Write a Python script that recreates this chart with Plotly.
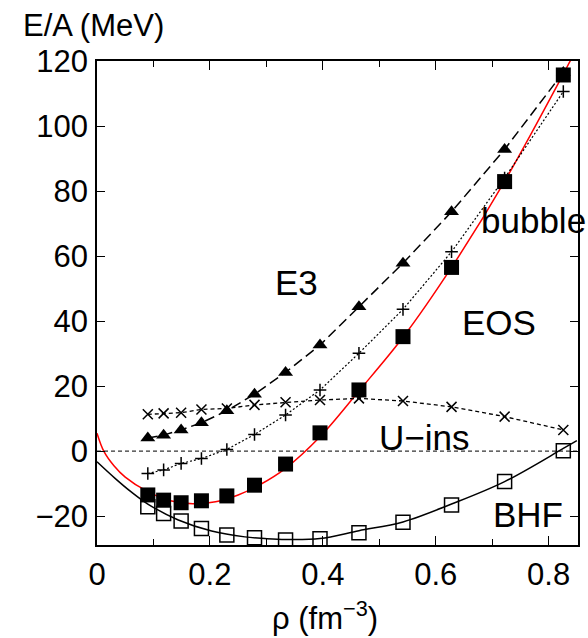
import plotly.graph_objects as go

# densities (fm^-3)
rho = [0.090, 0.118, 0.149, 0.185, 0.230, 0.279, 0.334, 0.395, 0.464, 0.542, 0.628, 0.722, 0.826]

# series values (MeV)
e3_tri = [4.0, 4.9, 6.5, 8.7, 12.4, 17.5, 24.2, 32.6, 44.4, 57.8, 73.6, 92.8, 116.5]
bubble_plus = [-6.9, -5.8, -3.8, -2.3, 0.5, 5.1, 11.1, 18.8, 30.1, 43.6, 61.3, 84.0, 110.6]
eos_sq = [-13.5, -15.1, -15.9, -15.3, -13.8, -10.5, -4.0, 5.6, 18.8, 35.2, 56.5, 82.9, 115.7]
uins_x = [11.3, 11.6, 11.8, 12.8, 13.1, 14.2, 15.0, 15.7, 16.2, 15.4, 13.6, 10.6, 6.5]
bhf_sq = [-17.1, -19.2, -21.5, -23.8, -25.8, -26.7, -27.4, -27.0, -25.1, -21.9, -16.6, -9.4, 0.1]

# fitted curves
eos_fit_x = [0.0, 0.012, 0.03, 0.05, 0.09, 0.13, 0.17, 0.21, 0.25, 0.29, 0.334, 0.395, 0.464, 0.542, 0.628, 0.722, 0.826, 0.85]
eos_fit_y = [5.5, 0.0, -4.5, -8.0, -12.5, -15.3, -16.2, -15.6, -13.5, -10.2, -5.3, 4.4, 18.5, 35.0, 56.5, 83.0, 116.0, 124.0]
bhf_fit_x = [0.0, 0.032, 0.06, 0.09, 0.144, 0.203, 0.262, 0.297, 0.334, 0.395, 0.464, 0.542, 0.628, 0.722, 0.826, 0.85]
bhf_fit_y = [-3.3, -8.4, -12.5, -16.3, -21.2, -24.6, -26.4, -26.9, -27.2, -26.9, -24.5, -21.8, -16.3, -9.4, 0.8, 3.2]

x_ticks = [0, 0.2, 0.4, 0.6, 0.8]
x_ticklabels = ["0", "0.2", "0.4", "0.6", "0.8"]
y_ticks = [-20, 0, 20, 40, 60, 80, 100, 120]
y_ticklabels = ["\u221220", "0", "20", "40", "60", "80", "100", "120"]

labels = ["E3", "bubble", "EOS", "U\u2212ins", "BHF"]
label_x = [0.353, 0.773, 0.712, 0.579, 0.764]
label_y = [52.0, 70.9, 39.7, 4.3, -19.4]

FONT = "Liberation Sans, Arial, Helvetica, sans-serif"

fig = go.Figure()

fig.add_trace(go.Scatter(x=eos_fit_x, y=eos_fit_y, mode="lines", line=dict(color="#ff0000", width=1.5, shape="spline"), hoverinfo="skip"))
fig.add_trace(go.Scatter(x=bhf_fit_x, y=bhf_fit_y, mode="lines", line=dict(color="black", width=1.5, shape="spline"), hoverinfo="skip"))

fig.add_trace(go.Scatter(x=rho, y=uins_x, mode="lines+markers",
                         line=dict(color="black", width=1.3, dash="4px,3px"),
                         marker=dict(symbol="x-thin", size=10, line=dict(color="black", width=1.5))))
fig.add_trace(go.Scatter(x=rho, y=bubble_plus, mode="lines+markers",
                         line=dict(color="black", width=1.2, dash="2px,2px"),
                         marker=dict(symbol="cross-thin", size=9, line=dict(color="black", width=1.5))))
fig.add_trace(go.Scatter(x=rho, y=e3_tri, mode="lines+markers",
                         line=dict(color="black", width=1.5, dash="10px,5px"),
                         marker=dict(symbol="triangle-up", size=13, color="black")))
fig.add_trace(go.Scatter(x=rho, y=eos_sq, mode="markers",
                         marker=dict(symbol="square", size=15, color="black")))
fig.add_trace(go.Scatter(x=rho, y=bhf_sq, mode="markers",
                         marker=dict(symbol="square-open", size=14, color="black", line=dict(color="black", width=1.5))))

fig.add_shape(type="line", xref="paper", x0=0, x1=1, yref="y", y0=0, y1=0,
              line=dict(color="#333333", width=1.3, dash="4px,3px"), layer="below")

for t, x, y in zip(labels, label_x, label_y):
    fig.add_annotation(x=x, y=y, xref="x", yref="y", text=t, showarrow=False,
                       font=dict(family=FONT, size=35, color="black"),
                       xanchor="center", yanchor="middle")

fig.add_annotation(xref="paper", yref="paper", x=(93 - 97) / 483, y=1 + (61 - 25) / 484,
                   text="E/A (MeV)", showarrow=False,
                   font=dict(family=FONT, size=31, color="black"), xanchor="center", yanchor="middle")

fig.add_annotation(xref="paper", yref="paper", x=(326 - 97) / 483, y=-(616 - 545) / 484,
                   text="\u03c1 (fm<sup>\u22123</sup>)", showarrow=False,
                   font=dict(family=FONT, size=31, color="black"), xanchor="center", yanchor="middle")

fig.update_layout(
    width=588, height=638,
    margin=dict(l=97, r=8, t=61, b=93),
    paper_bgcolor="white", plot_bgcolor="white",
    showlegend=False,
    font=dict(family=FONT, size=31, color="black"),
)
fig.update_xaxes(range=[0, 0.852], tickvals=x_ticks, ticktext=x_ticklabels,
                 ticks="inside", ticklen=9, tickwidth=1.2, tickcolor="black",
                 minor=dict(dtick=0.1, tick0=0, ticks="inside", ticklen=6, tickwidth=1.2, tickcolor="black"),
                 showline=True, linecolor="black", linewidth=1.5, mirror="ticks",
                 showgrid=False, zeroline=False, tickfont=dict(size=31, family=FONT),
                 ticklabelstandoff=1)
fig.update_yaxes(range=[-28.9, 120], tickvals=y_ticks, ticktext=y_ticklabels,
                 ticks="inside", ticklen=8, tickwidth=1.2, tickcolor="black",
                 showline=True, linecolor="black", linewidth=1.5, mirror="ticks",
                 showgrid=False, zeroline=False, tickfont=dict(size=31, family=FONT),
                 ticklabelstandoff=1)

fig.write_html("out.html", config={"displayModeBar": False},
               post_script="document.body.style.margin='0';document.body.style.overflow='hidden';")
